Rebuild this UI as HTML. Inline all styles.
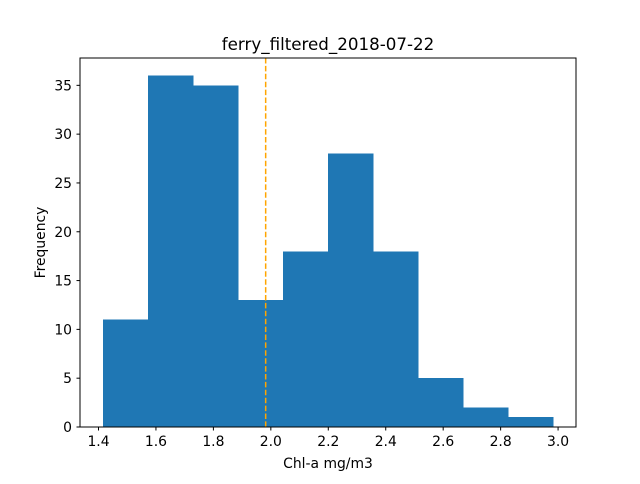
<!DOCTYPE html>
<html><head><meta charset="utf-8"><style>
body{margin:0;background:#fff;font-family:"DejaVu Sans","Liberation Sans",sans-serif;}
svg text{font-family:"DejaVu Sans","Liberation Sans",sans-serif;}
</style></head><body>
<svg id="chart" width="640" height="480" xmlns="http://www.w3.org/2000/svg">
<rect width="640" height="480" fill="#fff"/>
<g id="bars" shape-rendering="crispEdges"></g>
<g id="xticks"></g>
<g id="yticks"></g>
<line id="meanline" stroke="#ffa500" stroke-width="1.5" stroke-dasharray="5.5,2.4"/>
<rect x="80" y="58" width="496" height="369" fill="none" stroke="#000" stroke-width="1" shape-rendering="crispEdges"/>
<text x="328" y="50" font-size="16.7" text-anchor="middle">ferry_filtered_2018-07-22</text>
<text x="328" y="468" font-size="13.9" text-anchor="middle">Chl-a mg/m3</text>
<text transform="translate(45,242.5) rotate(-90)" font-size="13.9" text-anchor="middle">Frequency</text>
</svg>
<script>
const binStart = 1.416;
const binWidth = 0.1566;
const counts = [11,36,35,13,18,28,18,5,2,1];
const xTicks = [1.4,1.6,1.8,2.0,2.2,2.4,2.6,2.8,3.0];
const xTickLabels = ["1.4","1.6","1.8","2.0","2.2","2.4","2.6","2.8","3.0"];
const yTicks = [0,5,10,15,20,25,30,35];
const meanValue = 1.982;
const NS="http://www.w3.org/2000/svg";
const xMin=1.3356, xMax=3.0624, yMax=37.8;
const X=v=>80+(v-xMin)/(xMax-xMin)*496;
const Y=v=>427-v/yMax*369;
const bars=document.getElementById('bars');
counts.forEach((c,i)=>{
  const r=document.createElementNS(NS,'rect');
  const x0=X(binStart+i*binWidth), x1=X(binStart+(i+1)*binWidth);
  r.setAttribute('x',x0);r.setAttribute('width',x1-x0+0.5);
  r.setAttribute('y',Y(c));r.setAttribute('height',Y(0)-Y(c));
  r.setAttribute('fill','#1f77b4');
  
  
  bars.appendChild(r);
});
const xt=document.getElementById('xticks');
xTicks.forEach((t,i)=>{
  const x=X(t);
  const l=document.createElementNS(NS,'line');
  l.setAttribute('x1',x);l.setAttribute('x2',x);l.setAttribute('y1',427);l.setAttribute('y2',430.5);l.setAttribute('stroke','#000');
  
  
  xt.appendChild(l);
  const tx=document.createElementNS(NS,'text');
  tx.setAttribute('x',x);tx.setAttribute('y',446);tx.setAttribute('font-size','13.9');tx.setAttribute('text-anchor','middle');
  tx.textContent=xTickLabels[i];
  
  
  xt.appendChild(tx);
});
const yt=document.getElementById('yticks');
yTicks.forEach(t=>{
  const y=Y(t);
  const l=document.createElementNS(NS,'line');
  l.setAttribute('x1',76.5);l.setAttribute('x2',80);l.setAttribute('y1',y);l.setAttribute('y2',y);l.setAttribute('stroke','#000');
  
  
  yt.appendChild(l);
  const tx=document.createElementNS(NS,'text');
  tx.setAttribute('x',72);tx.setAttribute('y',y+5);tx.setAttribute('font-size','13.9');tx.setAttribute('text-anchor','end');
  tx.textContent=String(t);
  
  
  yt.appendChild(tx);
});
const m=document.getElementById('meanline');
m.setAttribute('x1',X(meanValue));m.setAttribute('x2',X(meanValue));m.setAttribute('y1',58);m.setAttribute('y2',427);
</script>
</body></html>
